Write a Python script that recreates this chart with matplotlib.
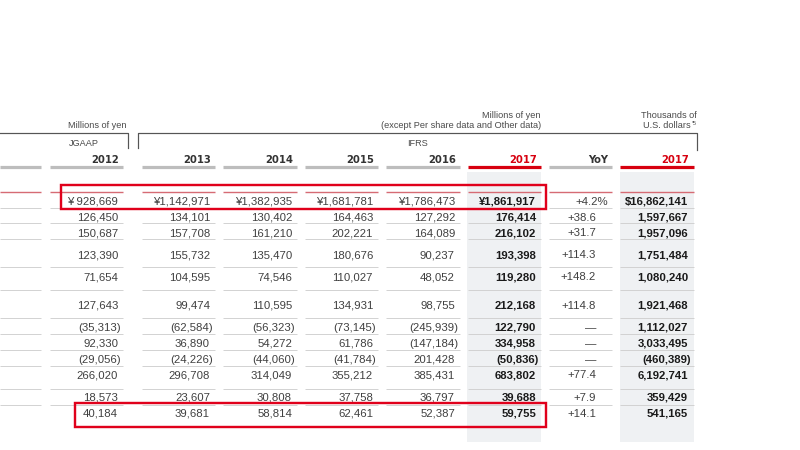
import matplotlib
matplotlib.use("Agg")
import matplotlib.pyplot as plt
from matplotlib.patches import Rectangle

# ---- data ----
years = ["2012", "2013", "2014", "2015", "2016", "2017"]
v2012 = [928669, 126450, 150687, 123390, 71654, 127643, -35313, 92330, -29056, 266020, 18573, 40184]
v2013 = [1142971, 134101, 157708, 155732, 104595, 99474, -62584, 36890, -24226, 296708, 23607, 39681]
v2014 = [1382935, 130402, 161210, 135470, 74546, 110595, -56323, 54272, -44060, 314049, 30808, 58814]
v2015 = [1681781, 164463, 202221, 180676, 110027, 134931, -73145, 61786, -41784, 355212, 37758, 62461]
v2016 = [1786473, 127292, 164089, 90237, 48052, 98755, -245939, -147184, 201428, 385431, 36797, 52387]
v2017 = [1861917, 176414, 216102, 193398, 119280, 212168, 122790, 334958, -50836, 683802, 39688, 59755]
yoy = [4.2, 38.6, 31.7, 114.3, 148.2, 114.8, None, None, None, 77.4, 7.9, 14.1]
usd2017 = [16862141, 1597667, 1957096, 1751484, 1080240, 1921468, 1112027, 3033495, -460389, 6192741, 359429, 541165]

FS = 8.2
NUM = "Liberation Sans"
GRAY_TXT = "#404040"
RED = "#d7000f"

fig = plt.figure(figsize=(8, 4.5), dpi=100)
ax = fig.add_axes([0, 0, 1, 1])
ax.set_xlim(0, 800)
ax.set_ylim(450, 0)
ax.axis("off")

px = 0.72  # points per pixel

# shaded columns
for x0, x1 in [(467, 541), (620, 694)]:
    ax.add_patch(Rectangle((x0, 172), x1 - x0, 270, facecolor="#eff1f3", edgecolor="none", zorder=0))

segs = [(0, 41), (50, 123), (142, 215), (223, 297), (305, 378), (386, 460), (468, 541), (549, 612), (620, 694)]

# header underlines
for i, (a, b) in enumerate(segs):
    c = RED if i in (6, 8) else "#bdbdbd"
    ax.plot([a, b], [167, 167], color=c, lw=3.2 * px, solid_capstyle="butt", zorder=2)

# red line above first row
for a, b in segs:
    ax.plot([a, b], [192, 192], color="#d66b74", lw=1.4 * px, solid_capstyle="butt", zorder=2)

# row separators
seps = [208, 223, 239, 267, 290, 318, 334, 350, 366, 389, 405]
for y in seps:
    for a, b in segs:
        ax.plot([a, b], [y, y], color="#cfcfcf", lw=0.9 * px, solid_capstyle="butt", zorder=2)

# bracket lines
bc = "#555555"
blw = 1.2 * px
ax.plot([0, 128, 128], [133, 133, 148], color=bc, lw=blw, zorder=2)
ax.plot([138, 138, 697, 697], [148, 133, 133, 150], color=bc, lw=blw, zorder=2)

# small header texts
sfs = 6.6
stc = "#4a4a4a"
ax.text(126, 128.5, "Millions of yen", ha="right", va="baseline", fontsize=sfs, family=NUM, color=stc)
ax.text(69, 146, "JGAAP", ha="left", va="baseline", fontsize=sfs, family=NUM, color=stc)
ax.text(407, 146, "IFRS", ha="left", va="baseline", fontsize=sfs, family=NUM, color=stc)
ax.text(541, 118, "Millions of yen", ha="right", va="baseline", fontsize=sfs, family=NUM, color=stc)
ax.text(541, 128, "(except Per share data and Other data)", ha="right", va="baseline", fontsize=sfs, family=NUM, color=stc)
ax.text(697, 118, "Thousands of", ha="right", va="baseline", fontsize=sfs, family=NUM, color=stc)
ax.text(691, 128, "U.S. dollars", ha="right", va="baseline", fontsize=sfs, family=NUM, color=stc)
ax.text(692, 125, "*5", ha="left", va="baseline", fontsize=3.8, family=NUM, color=stc)

# year headers
col_right = [118, 210, 292, 373, 455, 536]
hdr_kw = dict(ha="right", va="baseline", fontsize=8.0, family="DejaVu Sans", fontstretch="condensed", fontweight="bold")
for yr, xr in zip(years, col_right):
    ax.text(xr + 1, 163, yr, color=RED if yr == "2017" else "#333333", **hdr_kw)
ax.text(608, 163, "YoY", color="#333333", **hdr_kw)
ax.text(689, 163, "2017", color=RED, **hdr_kw)

rows_y = [201, 217, 232, 254, 276, 305, 327, 343, 359, 374, 397, 413]


def fmt(v, prefix=""):
    s = f"{abs(v):,}"
    if v < 0:
        return f"({s})"
    return prefix + s


def put(x, y, s, bold=False):
    off = 0
    if s.endswith(")"):
        off = 3
    elif s.endswith("%"):
        off = 12
    ax.text(x + off, y + 4, s, ha="right", va="baseline", fontsize=FS, family=NUM,
            fontweight="bold" if bold else "normal", color="#1a1a1a" if bold else GRAY_TXT, zorder=3)


columns = [v2012, v2013, v2014, v2015, v2016, v2017]
prefixes = ["¥ ", "¥", "¥", "¥", "¥", "¥"]
for ci, (col, xr) in enumerate(zip(columns, col_right)):
    for ri, (v, y) in enumerate(zip(col, rows_y)):
        s = fmt(v, prefixes[ci] if ri == 0 else "")
        put(xr, y, s, bold=(ci == 5))

for ri, (v, y) in enumerate(zip(yoy, rows_y)):
    if v is None:
        s = "—"
    else:
        s = f"+{v:.1f}" + ("%" if ri == 0 else "")
    put(596, y, s)

for ri, (v, y) in enumerate(zip(usd2017, rows_y)):
    put(688, y, fmt(v, "$" if ri == 0 else ""), bold=True)

# red highlight boxes
for (x0, y0, x1, y1) in [(61, 185, 546, 209), (75, 403, 546, 427)]:
    ax.add_patch(Rectangle((x0, y0), x1 - x0, y1 - y0, facecolor="none", edgecolor="#e0001b", lw=2.4 * px, zorder=4))

fig.savefig("out.png", dpi=100)
